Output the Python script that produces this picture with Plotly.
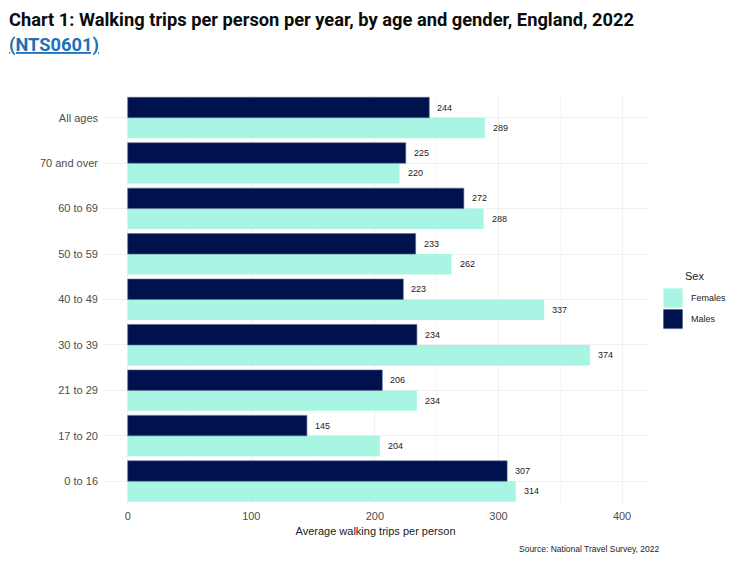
import plotly.graph_objects as go

categories = ["0 to 16", "17 to 20", "21 to 29", "30 to 39", "40 to 49",
              "50 to 59", "60 to 69", "70 and over", "All ages"]
females = [314, 204, 234, 374, 337, 262, 288, 220, 289]
males = [307, 145, 206, 234, 223, 233, 272, 225, 244]
series_names = ["Females", "Males"]

FEM_COL = "#a8f5e4"
MAL_COL = "#00124d"

# page body has an 8px margin; work in screenshot pixels and convert
OFF = 8
W, H = 740 - OFF, 561 - OFF
L, R, T, B = 103.3 - OFF, 648 - OFF, 95.3 - OFF, 503.7 - OFF
PW, PH = R - L, B - T

def px_x(p):
    return (p - OFF - L) / PW

def px_y(p):
    return (B - (p - OFF)) / PH

fig = go.Figure()
fig.add_trace(go.Bar(
    y=categories, x=females, name="Females", orientation="h",
    marker=dict(color=FEM_COL, line=dict(width=0)),
    showlegend=False,
))
fig.add_trace(go.Bar(
    y=categories, x=males, name="Males", orientation="h",
    marker=dict(color=MAL_COL, line=dict(width=0.6, color="#5a6a90")),
    showlegend=False,
))

# value labels
for vals, ysh in ((females, -10.2), (males, 10.2)):
    for c, v in zip(categories, vals):
        fig.add_annotation(
            x=v, y=c, xref="x", yref="y", text=str(v), showarrow=False,
            xanchor="left", yanchor="middle", xshift=6, yshift=ysh,
            font=dict(size=9, color="#222222", family="Liberation Sans"),
        )

fig.update_layout(
    width=W, height=H,
    barmode="group", bargap=0.1, bargroupgap=0,
    plot_bgcolor="white", paper_bgcolor="white",
    margin=dict(l=L, r=W - R, t=T, b=H - B, autoexpand=False),
    font=dict(family="Liberation Sans", size=11, color="#4d4d4d"),
    showlegend=False,
)
fig.update_xaxes(
    range=[-20, 421], tickvals=[0, 100, 200, 300, 400],
    showgrid=True, gridcolor="#f0f0f0", gridwidth=1,
    minor=dict(tickvals=[50, 150, 250, 350], showgrid=True, gridcolor="#f7f7f7"),
    zeroline=False, showline=False, ticks="", automargin=False,
    ticklabelstandoff=4,
    tickfont=dict(size=11, color="#4d4d4d"),
    title=dict(text="Average walking trips per person",
               font=dict(size=11, color="#222222"), standoff=6),
)
fig.update_yaxes(
    categoryorder="array", categoryarray=categories,
    showgrid=True, gridcolor="#f0f0f0", gridwidth=1,
    zeroline=False, showline=False, ticks="", automargin=False,
    ticklabelstandoff=4,
    tickfont=dict(size=11, color="#4d4d4d"),
)

# legend drawn manually (ggplot-style large keys)
fig.add_annotation(
    text="Sex", xref="paper", yref="paper", x=px_x(683), y=px_y(276),
    xanchor="left", yanchor="middle", showarrow=False,
    font=dict(size=11, color="#222222"),
)
for name, col, y0 in ((series_names[0], FEM_COL, 288), (series_names[1], MAL_COL, 309)):
    fig.add_shape(
        type="rect", xref="paper", yref="paper",
        x0=px_x(663), x1=px_x(683), y0=px_y(y0), y1=px_y(y0 + 20),
        fillcolor=col, line=dict(width=0.8, color="white"),
    )
    fig.add_annotation(
        text=name, xref="paper", yref="paper", x=px_x(689), y=px_y(y0 + 10),
        xanchor="left", yanchor="middle", showarrow=False,
        font=dict(size=9, color="#222222"),
    )

fig.add_annotation(
    text="<b>Chart 1: Walking trips per person per year, by age and gender, England, 2022</b>",
    xref="paper", yref="paper", x=px_x(7), y=px_y(20),
    xanchor="left", yanchor="middle", showarrow=False, align="left",
    font=dict(family="Roboto", size=18.3, color="#0b0c0c"),
)
fig.add_annotation(
    text="<b><span style='text-decoration:underline'>(NTS0601)</span></b>",
    xref="paper", yref="paper", x=px_x(7), y=px_y(45),
    xanchor="left", yanchor="middle", showarrow=False, align="left",
    font=dict(family="Roboto", size=18.3, color="#1d70b8"),
)
fig.add_annotation(
    text="Source: National Travel Survey, 2022",
    xref="paper", yref="paper", x=px_x(661), y=px_y(549),
    xanchor="right", yanchor="middle", showarrow=False,
    font=dict(size=8.5, color="#222222"),
)

fig.write_html("out.html")
